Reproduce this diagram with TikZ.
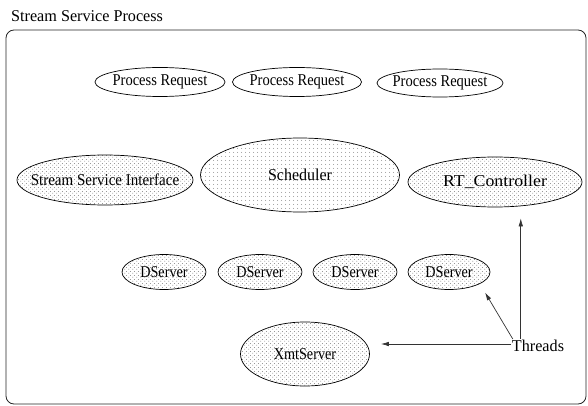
\documentclass[tikz,border=0pt]{standalone}
\usepackage{fontspec}
\usepackage{graphicx}
\setmainfont{Liberation Serif}
\usetikzlibrary{shapes.geometric,arrows.meta,patterns.meta}

% stipple fills for the process components
\tikzdeclarepattern{
  name=densedots,
  type=uncolored,
  bounding box={(0pt,0pt) and (4pt,4pt)},
  tile size={(4pt,4pt)},
  code={
    \fill (1pt,1pt) circle (0.55pt);
    \fill (3pt,3pt) circle (0.55pt);
  }
}
\tikzdeclarepattern{
  name=sparsedots,
  type=uncolored,
  bounding box={(0pt,0pt) and (4pt,4pt)},
  tile size={(4pt,4pt)},
  code={
    \fill (2pt,2pt) circle (0.5pt);
  }
}

% label of zero width (so the ellipse keeps its given size), squeezed sideways
\newcommand\lblbox[2][1]{\makebox[0pt][c]{\scalebox{#1}[1]{#2}}}

\tikzset{
  lbl/.style={font=\fontsize{16.5}{19}\selectfont},
  proc/.style={ellipse, draw=black, line width=0.7pt, inner sep=0pt, lbl},
  request/.style={proc, fill=white},
  component/.style={proc, pattern=densedots, pattern color=black!55},
  core/.style={proc, pattern=sparsedots, pattern color=black!60},
  arr/.style={draw=black!80, line width=0.7pt, -{Latex[length=8pt,width=4.5pt]}},
}

\begin{document}
\begin{tikzpicture}[x=1pt, y=-1pt]
  \useasboundingbox (0,0) rectangle (588,406);

  % enclosing process
  \node[lbl, anchor=base west, inner sep=0pt] (title) at (11,22) {\scalebox{0.98}[1]{Stream Service Process}};
  \draw[line width=0.8pt, draw=black!85, rounded corners=8pt] (6,30) rectangle (586,404);

  % request handlers
  \node[request, minimum width=130pt, minimum height=29pt] (pr1) at (160,82) {\lblbox[0.88]{Process Request}};
  \node[request, minimum width=129pt, minimum height=29pt] (pr2) at (297,82) {\lblbox[0.88]{Process Request}};
  \node[request, minimum width=126pt, minimum height=28pt] (pr3) at (440,83) {\lblbox[0.88]{Process Request}};

  % main components
  \node[component, minimum width=176pt, minimum height=50pt] (ssi) at (105,180) {\lblbox[0.91]{Stream Service Interface}};
  \node[core, minimum width=199pt, minimum height=74pt] (sched) at (300,175) {\lblbox[0.97]{Scheduler}};
  \node[component, minimum width=174pt, minimum height=50pt] (rt) at (495,182) {\lblbox[1.08]{RT\_Controller}};

  % data servers
  \node[component, minimum width=84pt, minimum height=35pt] (ds1) at (164,272) {\lblbox[0.86]{DServer}};
  \node[component, minimum width=84pt, minimum height=35pt] (ds2) at (260,272) {\lblbox[0.86]{DServer}};
  \node[component, minimum width=84pt, minimum height=35pt] (ds3) at (355,272) {\lblbox[0.86]{DServer}};
  \node[component, minimum width=82pt, minimum height=35pt] (ds4) at (449,272) {\lblbox[0.86]{DServer}};

  \node[component, minimum width=129pt, minimum height=64pt] (xmt) at (305,354) {\lblbox[0.86]{XmtServer}};

  % thread annotation
  \node[lbl, inner sep=1pt] (th) at (538,346) {\scalebox{0.98}[1]{Threads}};

  \draw[arr, shorten >=11pt] ([yshift=2pt]th.west) -- ([yshift=2pt]th.west -| xmt.east);
  \draw[arr, shorten >=10pt] ([xshift=2pt]th.north west) -- (ds4.-21);
  \draw[arr, shorten >=11pt] ([xshift=10pt]th.north west) -- ([xshift=10pt]th.north west |- rt.south);
\end{tikzpicture}
\end{document}
